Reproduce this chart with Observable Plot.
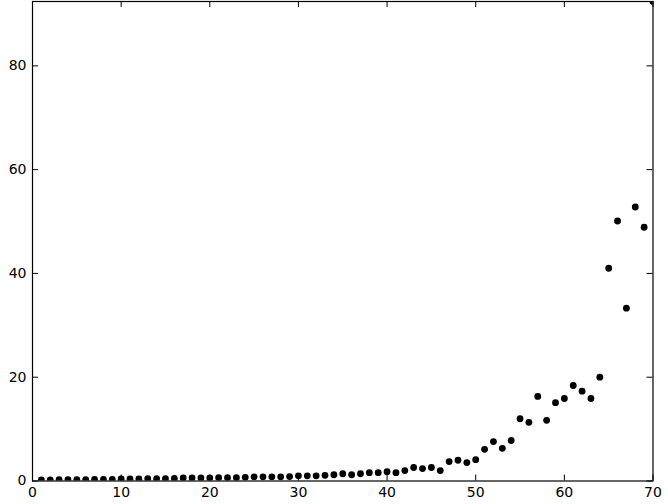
<!DOCTYPE html>
<html>
<head>
<meta charset="utf-8">
<script src="https://cdn.jsdelivr.net/npm/d3@7"></script>
<script src="https://cdn.jsdelivr.net/npm/@observablehq/plot@0.6"></script>
<style>
  html, body { margin: 0; padding: 0; background: #fff; }
</style>
</head>
<body>
<div id="chart"></div>
<script>
const xValues = [1,2,3,4,5,6,7,8,9,10,11,12,13,14,15,16,17,18,19,20,
  21,22,23,24,25,26,27,28,29,30,31,32,33,34,35,36,37,38,39,40,
  41,42,43,44,45,46,47,48,49,50,51,52,53,54,55,56,57,58,59,60,
  61,62,63,64,65,66,67,68,69,70];
const yValues = [0.2,0.2,0.25,0.25,0.25,0.25,0.3,0.3,0.3,0.4,
  0.4,0.4,0.45,0.45,0.45,0.5,0.6,0.6,0.6,0.6,
  0.65,0.65,0.65,0.7,0.8,0.8,0.8,0.8,0.85,1.0,
  1.0,1.0,1.1,1.2,1.4,1.2,1.4,1.6,1.6,1.8,
  1.6,2.0,2.6,2.4,2.6,2.0,3.75,4.0,3.55,4.1,
  6.1,7.6,6.3,7.8,12.0,11.3,16.3,11.7,15.1,15.9,
  18.4,17.3,15.9,20.0,41.0,50.1,33.3,52.8,48.9,92.4];
const xTicks = [0,10,20,30,40,50,60,70];
const yTicks = [0,20,40,60,80];

const data = xValues.map((x, i) => ({x, y: yValues[i]}));

const W = 668, H = 504;
const mL = 32, mR = 15.5, mT = 1, mB = 23.5;
const plotW = W - mL - mR, plotH = H - mT - mB;
const tk = 6;

const chart = Plot.plot({
  width: W,
  height: H,
  marginLeft: mL,
  marginRight: mR,
  marginTop: mT,
  marginBottom: mB,
  style: {fontFamily: "DejaVu Sans", fontSize: "14px", color: "#000", background: "#fff"},
  x: {domain: [0, 70]},
  y: {domain: [0, d3.max(yValues)]},
  marks: [
    Plot.dot(data, {x: "x", y: "y", r: 3.4, fill: "#000", stroke: "none", clip: true}),
    Plot.tickX(xTicks, {x: d => d, insetTop: plotH - tk, stroke: "#000", strokeWidth: 1}),
    Plot.tickX(xTicks, {x: d => d, insetBottom: plotH - tk, stroke: "#000", strokeWidth: 1}),
    Plot.tickY(yTicks, {y: d => d, insetRight: plotW - tk, stroke: "#000", strokeWidth: 1}),
    Plot.tickY(yTicks, {y: d => d, insetLeft: plotW - tk, stroke: "#000", strokeWidth: 1}),
    Plot.axisX({ticks: xTicks, tickSize: 0, tickPadding: 6, label: null, fill: "#000", fontSize: 14, fontFamily: "DejaVu Sans"}),
    Plot.axisY({ticks: yTicks, tickSize: 0, tickPadding: 6, label: null, fill: "#000", fontSize: 14, fontFamily: "DejaVu Sans"}),
    Plot.frame({stroke: "#000", strokeWidth: 1.2})
  ]
});
document.getElementById("chart").appendChild(chart);
</script>
</body>
</html>
